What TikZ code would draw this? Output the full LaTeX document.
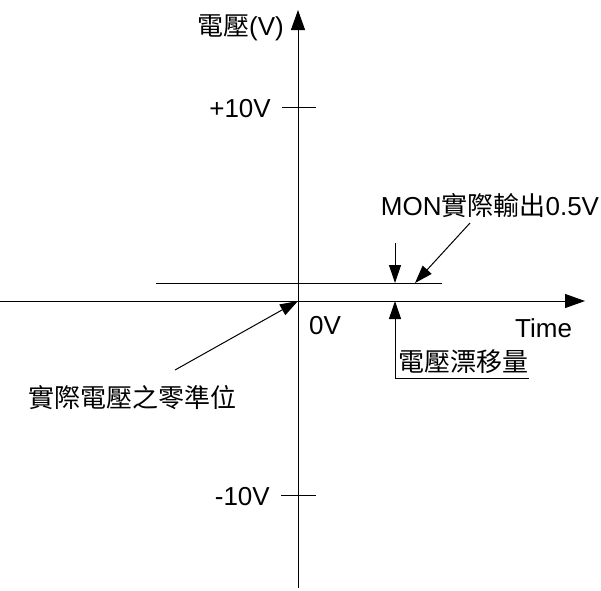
\documentclass[tikz,border=0pt]{standalone}
\usepackage{fontspec}
\setmainfont{Liberation Sans}
\newfontfamily\cjk{Noto Sans CJK TC}
\usetikzlibrary{arrows.meta}
\tikzset{
  axis/.style={line width=1pt, draw=black},
  bigtip/.style={-{Triangle[length=20pt,width=14pt]}},
  smalltip/.style={-{Triangle[length=18pt,width=12pt]}},
  lbl/.style={inner sep=0pt, font=\fontsize{26}{30}\selectfont},
}
\begin{document}
\begin{tikzpicture}[x=1pt,y=-1pt]
\useasboundingbox (0,0) rectangle (601,590);
% axes
\coordinate (yb) at (298,588);
\coordinate (yt) at (298,10);
\coordinate (xl) at (0,301);
\coordinate (xr) at (585,301);
\coordinate (o) at (298,301);
\draw[axis,bigtip] (yb) -- (yt);
\draw[axis,bigtip] (xl) -- (xr);
% ticks
\coordinate (t1a) at (282,107); \coordinate (t1b) at (316,107);
\coordinate (t2a) at (281,495); \coordinate (t2b) at (316,495);
\draw[axis] (t1a) -- (t1b);
\draw[axis] (t2a) -- (t2b);
% offset level line
\coordinate (la) at (156,283); \coordinate (lb) at (442,283);
\draw[axis] (la) -- (lb);
% labels
\node[lbl, anchor=east] (vlab) at (284,28) {{\cjk 電壓}(V)};
\node[lbl, anchor=east] (p10) at (271,109) {+10V};
\node[lbl, anchor=east] (m10) at (270,497) {-10V};
\node[lbl, anchor=west] (zero) at (309,326) {0V};
\node[lbl, anchor=west] (time) at (515,328) {Time};
\node[lbl] (mon) at (490,206) {MON{\cjk 實際輸出}0.5V};
\node[lbl] (zl) at (132,398) {\cjk 實際電壓之零準位};
\node[lbl, anchor=west] (drift) at (398,362) {\cjk 電壓漂移量};
% arrows
\coordinate (d1s) at (395,243); \coordinate (d1e) at (395,283);
\draw[axis,smalltip] (d1s) -- (d1e);
\coordinate (d2s) at (395,378); \coordinate (d2e) at (395,301);
\coordinate (d2u) at (529,378);
\draw[axis] (d2u) -- (d2s);
\draw[axis,smalltip] (d2s) -- (d2e);
\coordinate (ms) at (470,223); \coordinate (me) at (415,283);
\draw[axis,smalltip] (ms) -- (me);
\coordinate (zs) at (175,370);
\draw[axis,smalltip] (zs) -- (o);
\end{tikzpicture}
\end{document}
